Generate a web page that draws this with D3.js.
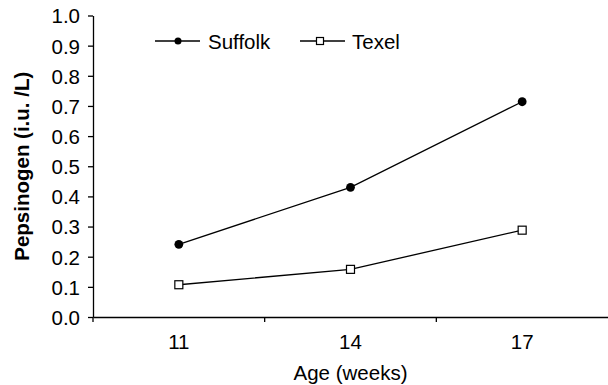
<!DOCTYPE html>
<html>
<head>
<meta charset="utf-8">
<script src="https://cdn.jsdelivr.net/npm/d3@7"></script>
<style>
	body { margin: 0; background: #fff; }
	svg { display: block; font-family: "Liberation Sans", Arial, Helvetica, sans-serif; }
	.axis path, .axis line { stroke: #000; stroke-width: 1.3; }
	.axis text { font-size: 20.5px; fill: #000; }
</style>
</head>
<body>
<svg id="chart" width="608" height="385"></svg>
<script>
// data
const ages = ["11", "14", "17"];
const suffolk = [0.241, 0.430, 0.714];
const texel = [0.107, 0.158, 0.288];
const yTicks = [0, 0.1, 0.2, 0.3, 0.4, 0.5, 0.6, 0.7, 0.8, 0.9, 1.0];

const svg = d3.select("#chart");

const x = d3.scaleBand().domain(ages).range([93, 608]).padding(0);
const y = d3.scaleLinear().domain([0, 1]).range([317, 15.5]);

//y axis
svg.append("g")
	.attr("class", "axis")
	.attr("transform", "translate(93,0)")
	.call(d3.axisLeft(y).tickValues(yTicks).tickFormat(d3.format(".1f")).tickSize(5).tickSizeOuter(0).tickPadding(8))
	.call((g) => g.selectAll("text").attr("dy", "0.36em"));

//x axis: labels at band centres, ticks on the band edges
const xAxis = svg.append("g")
	.attr("class", "axis")
	.attr("transform", `translate(0,${y(0)})`)
	.call(d3.axisBottom(x).tickSize(0).tickSizeOuter(0).tickPadding(17));
xAxis.selectAll(".tick line").remove();
xAxis.selectAll(".edge")
	.data(ages)
	.enter()
	.append("line")
	.attr("class", "edge")
	.attr("x1", (d) => x(d))
	.attr("x2", (d) => x(d))
	.attr("y1", 0)
	.attr("y2", 5);

//axis titles
svg.append("text")
	.attr("x", (x.range()[0] + x.range()[1]) / 2)
	.attr("y", 380)
	.attr("text-anchor", "middle")
	.style("font-size", "20.5px")
	.text("Age (weeks)");

svg.append("text")
	.attr("transform", `translate(29,${(y(0) + y(1)) / 2}) rotate(-90)`)
	.attr("text-anchor", "middle")
	.style("font-size", "20.5px")
	.style("font-weight", "bold")
	.text("Pepsinogen (i.u. /L)");

const line = d3.line()
	.x((d, i) => x(ages[i]) + x.bandwidth() / 2)
	.y((d) => y(d));

//series lines
[suffolk, texel].forEach((s) => {
	svg.append("path")
		.attr("d", line(s))
		.attr("fill", "none")
		.attr("stroke", "#000")
		.attr("stroke-width", 1.3);
});

//markers
svg.selectAll(".dotS")
	.data(suffolk)
	.enter()
	.append("circle")
	.attr("cx", (d, i) => x(ages[i]) + x.bandwidth() / 2)
	.attr("cy", (d) => y(d))
	.attr("r", 4.4)
	.attr("fill", "#000");

svg.selectAll(".sqT")
	.data(texel)
	.enter()
	.append("rect")
	.attr("x", (d, i) => x(ages[i]) + x.bandwidth() / 2 - 4)
	.attr("y", (d) => y(d) - 4)
	.attr("width", 8)
	.attr("height", 8)
	.attr("fill", "#fff")
	.attr("stroke", "#000")
	.attr("stroke-width", 1.2);

//legend
const legY = 41;
const leg = svg.append("g");
leg.append("line").attr("x1", 155).attr("x2", 200).attr("y1", legY).attr("y2", legY).attr("stroke", "#000").attr("stroke-width", 1.3);
leg.append("circle").attr("cx", 178).attr("cy", legY).attr("r", 3.5).attr("fill", "#000");
leg.append("text").attr("x", 208).attr("y", legY + 7.5).style("font-size", "20.5px").text("Suffolk");

leg.append("line").attr("x1", 300).attr("x2", 345).attr("y1", legY).attr("y2", legY).attr("stroke", "#000").attr("stroke-width", 1.3);
leg.append("rect").attr("x", 316.5).attr("y", legY - 3.5).attr("width", 7).attr("height", 7).attr("fill", "#fff").attr("stroke", "#000").attr("stroke-width", 1.2);
leg.append("text").attr("x", 352).attr("y", legY + 7.5).style("font-size", "20.5px").text("Texel");
</script>
</body>
</html>
